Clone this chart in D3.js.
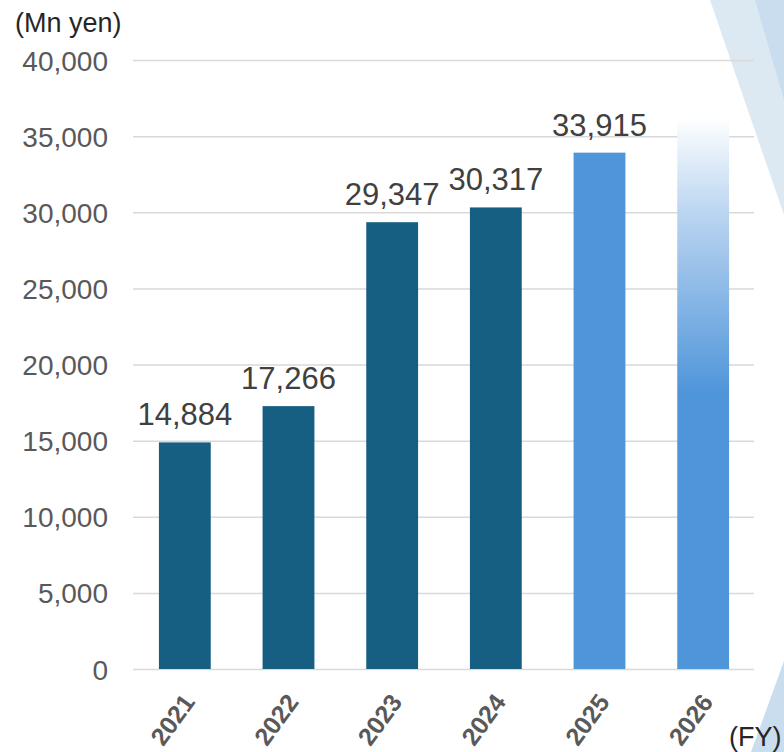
<!DOCTYPE html>
<html>
<head>
<meta charset="utf-8">
<script src="https://cdn.jsdelivr.net/npm/d3@7"></script>
<style>
  html, body { margin: 0; padding: 0; background: #ffffff; }
  svg { display: block; font-family: Arial, "Liberation Sans", sans-serif; }
</style>
</head>
<body>
<svg id="chart" width="784" height="752"></svg>
<script>
// Fiscal years and values (Mn yen)
const years = ["2021", "2022", "2023", "2024", "2025", "2026"];
const values = [14884, 17266, 29347, 30317, 33915, 36250];
const labels = ["14,884", "17,266", "29,347", "30,317", "33,915", ""];
const barKind = ["actual", "actual", "actual", "actual", "plan", "target"];
const yTicks = [0, 5000, 10000, 15000, 20000, 25000, 30000, 35000, 40000];

const svg = d3.select("#chart");

// Decorative diagonal bands on the right edge
const deco = svg.append("g");
deco.append("polygon").attr("points", "710,0 784,0 784,215").attr("fill", "#dce9f3");
deco.append("polygon").attr("points", "755,0 784,0 784,100").attr("fill", "#c9ddee");
deco.append("polygon").attr("points", "784,661 751,752 784,752").attr("fill", "#c9ddee");

const x = d3.scaleBand().domain(years).range([133, 755]).paddingInner(0.5).paddingOuter(0.25);
const y = d3.scaleLinear().domain([0, 40000]).range([669, 60]);

// Gradient for the target bar
const defs = svg.append("defs");
const grad = defs.append("linearGradient").attr("id", "targetGrad")
  .attr("x1", 0).attr("y1", 0).attr("x2", 0).attr("y2", 1);
grad.append("stop").attr("offset", "0%").attr("stop-color", "#ffffff");
grad.append("stop").attr("offset", "17%").attr("stop-color", "#bcd6f1");
grad.append("stop").attr("offset", "50%").attr("stop-color", "#4f95da");
grad.append("stop").attr("offset", "100%").attr("stop-color", "#4f95da");

// Gridlines
svg.append("g")
  .attr("transform", "translate(133,0)")
  .call(d3.axisLeft(y).tickValues(yTicks).tickSize(-(754 - 133)).tickFormat(""))
  .call(g => g.select(".domain").remove())
  .call(g => g.selectAll(".tick line").attr("stroke", "#d9d9d9").attr("stroke-width", 1.5));

// Y axis labels
svg.append("g")
  .attr("transform", "translate(108,0)")
  .call(d3.axisLeft(y).tickValues(yTicks).tickSize(0).tickPadding(0).tickFormat(d3.format(",")))
  .call(g => g.select(".domain").remove())
  .call(g => g.selectAll("text")
    .attr("fill", "#595959").attr("font-size", 28)
    .attr("font-family", "Arial, 'Liberation Sans', sans-serif")
    .attr("dy", "0.36em"));

// Bars
const colorFor = k => k === "actual" ? "#175f82" : (k === "plan" ? "#4f95da" : "url(#targetGrad)");
svg.append("g").selectAll("rect")
  .data(years)
  .join("rect")
  .attr("x", d => x(d))
  .attr("width", x.bandwidth())
  .attr("y", (d, i) => y(values[i]))
  .attr("height", (d, i) => y(0) - y(values[i]))
  .attr("fill", (d, i) => colorFor(barKind[i]));

// Value labels
svg.append("g").selectAll("text")
  .data(years)
  .join("text")
  .attr("x", d => x(d) + x.bandwidth() / 2)
  .attr("y", (d, i) => y(values[i]) - 17)
  .attr("text-anchor", "middle")
  .attr("font-size", 31)
  .attr("fill", "#404040")
  .text((d, i) => labels[i]);

// X axis labels (rotated)
svg.append("g").selectAll("text")
  .data(years)
  .join("text")
  .attr("transform", d => `translate(${x(d) + x.bandwidth() / 2 + 4},${697}) rotate(-54)`)
  .attr("text-anchor", "end")
  .attr("dy", "0.35em")
  .attr("font-size", 25)
  .attr("font-weight", "bold")
  .attr("fill", "#595959")
  .text(d => d);

// Units
svg.append("text").attr("x", 15).attr("y", 32).attr("font-size", 27).attr("fill", "#262626").text("(Mn yen)");
svg.append("text").attr("x", 729).attr("y", 746).attr("font-size", 27).attr("fill", "#262626").text("(FY)");
</script>
</body>
</html>
